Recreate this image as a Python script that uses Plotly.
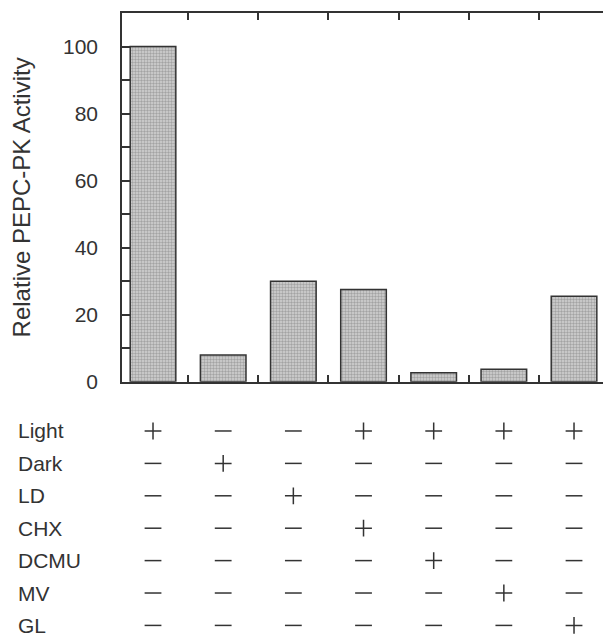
import plotly.graph_objects as go

# ---- data ----
categories = ["Light", "Dark", "LD", "Light+CHX", "Light+DCMU", "Light+MV", "Light+GL"]
activity = [100, 8, 30, 27.5, 2.7, 3.7, 25.5]

y_tickvals = [0, 10, 20, 30, 40, 50, 60, 70, 80, 90, 100]
y_ticktext = ["0", "", "20", "", "40", "", "60", "", "80", "", "100"]

row_labels = ["Light", "Dark", "LD", "CHX", "DCMU", "MV", "GL"]
light = ["+", "-", "-", "+", "+", "+", "+"]
dark = ["-", "+", "-", "-", "-", "-", "-"]
ld = ["-", "-", "+", "-", "-", "-", "-"]
chx = ["-", "-", "-", "+", "-", "-", "-"]
dcmu = ["-", "-", "-", "-", "+", "-", "-"]
mv = ["-", "-", "-", "-", "-", "+", "-"]
gl = ["-", "-", "-", "-", "-", "-", "+"]
sign_rows = [light, dark, ld, chx, dcmu, mv, gl]

INK = "#333333"
W, H = 595, 633
L, T = 114, 5

fig = go.Figure()

fig.add_trace(go.Bar(
    x=categories, y=activity, width=0.65,
    marker=dict(
        color="#cfcfcf",
        line=dict(color=INK, width=1.5),
        pattern=dict(shape=".", fgcolor="#747474", bgcolor="#d2d2d2", size=3, solidity=0.5),
    ),
    xaxis="x", yaxis="y", hoverinfo="skip",
))

sym = {"+": "cross-thin", "-": "line-ew"}
for i, row in enumerate(sign_rows):
    fig.add_trace(go.Scatter(
        x=categories, y=[i] * len(categories), mode="markers",
        marker=dict(symbol=[sym[s] for s in row], size=12,
                    line=dict(color=INK, width=1.5), color=INK),
        xaxis="x", yaxis="y2", hoverinfo="skip",
    ))

annotations = []
for i, lab in enumerate(row_labels):
    annotations.append(dict(
        text=lab, xref="paper", yref="y2", x=(8 - L) / (W - L), y=i,
        xanchor="left", yanchor="middle", showarrow=False,
        font=dict(size=21, color=INK),
    ))

fig.update_layout(
    width=W, height=H,
    margin=dict(l=L, r=0, t=T, b=0),
    paper_bgcolor="white", plot_bgcolor="white",
    showlegend=False,
    font=dict(family="Liberation Sans, Arial, sans-serif", color=INK),
    annotations=annotations,
    xaxis=dict(
        type="category", range=[-0.442, 6.413], domain=[0, 1], anchor="y",
        showline=True, linecolor=INK, linewidth=1.5, mirror="ticks",
        ticks="inside", tickson="boundaries", ticklen=7, tickwidth=1.5, tickcolor=INK,
        showticklabels=False, showgrid=False, zeroline=False,
    ),
    yaxis=dict(
        domain=[0.4129, 1], range=[0, 110], anchor="x",
        tickvals=y_tickvals, ticktext=y_ticktext,
        ticks="inside", ticklen=8, tickwidth=1.5, tickcolor=INK,
        showline=True, linecolor=INK, linewidth=1.5,
        showgrid=False, zeroline=False, automargin=False,
        tickfont=dict(size=21, color=INK), ticklabelstandoff=18,
        title=dict(text="Relative PEPC-PK Activity", font=dict(size=24, color=INK), standoff=34),
    ),
    yaxis3=dict(
        overlaying="y", side="right", anchor="x", range=[0, 110],
        tickvals=y_tickvals, ticks="inside", ticklen=7, tickwidth=1.5, tickcolor=INK,
        showticklabels=False, showline=False, showgrid=False, zeroline=False,
    ),
    yaxis2=dict(
        domain=[0, 0.3806], range=[6.481, -0.895], anchor="x", visible=False,
    ),
)

fig.write_html("out.html")
